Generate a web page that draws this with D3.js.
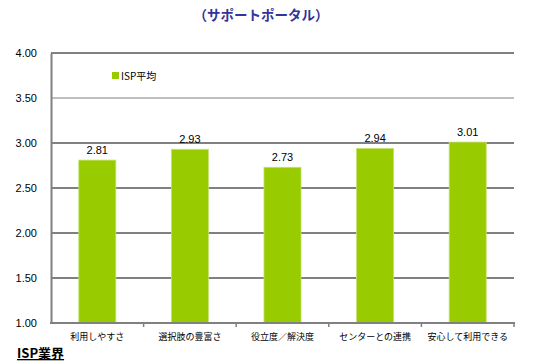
<!DOCTYPE html>
<html>
<head>
<meta charset="utf-8">
<script src="https://cdn.jsdelivr.net/npm/d3@7"></script>
<style>
  body { margin: 0; background: #fff; }
  svg { display: block; font-family: "Liberation Sans", "Noto Sans CJK JP", sans-serif; }
</style>
</head>
<body>
<svg id="chart"></svg>
<script>
const categories = ["利用しやすさ", "選択肢の豊富さ", "役立度／解決度", "センターとの連携", "安心して利用できる"];
const ispAverage = [2.81, 2.93, 2.73, 2.94, 3.01];
const yTicks = [1.00, 1.50, 2.00, 2.50, 3.00, 3.50, 4.00];
const seriesName = "ISP平均";

const width = 544, height = 364;
const margin = {top: 53, right: 30, bottom: 41, left: 51};

const svg = d3.select("#chart")
    .attr("width", width)
    .attr("height", height);

const x = d3.scaleBand()
    .domain(categories)
    .range([margin.left, width - margin.right])
    .paddingInner(0.6)
    .paddingOuter(0.3);

const y = d3.scaleLinear()
    .domain([1, 4])
    .range([height - margin.bottom, margin.top]);

// title
svg.append("text")
    .attr("x", 261)
    .attr("y", 20)
    .attr("text-anchor", "middle")
    .attr("font-size", 13.5)
    .attr("font-weight", "bold")
    .attr("fill", "#333399")
    .attr("font-family", "Noto Sans CJK JP")
    .text("（サポートポータル）");

// gridlines
svg.append("g")
    .selectAll("line")
    .data(yTicks.filter(d => d > 1))
    .join("line")
    .attr("x1", margin.left)
    .attr("x2", width - margin.right)
    .attr("y1", d => y(d))
    .attr("y2", d => y(d))
    .attr("stroke", "#808080")
    .attr("stroke-width", d => d === 3.5 ? 1 : 2);

// y axis
const yAxis = svg.append("g")
    .attr("transform", `translate(${margin.left},0)`)
    .call(d3.axisLeft(y).tickValues(yTicks).tickFormat(d3.format(".2f")).tickSize(0).tickPadding(14));
yAxis.select(".domain").attr("stroke", "#808080").attr("stroke-width", 2);
yAxis.selectAll("text").attr("font-size", 11).attr("fill", "#000").attr("font-family", "Liberation Sans");

// bars
svg.append("g")
    .selectAll("rect")
    .data(ispAverage)
    .join("rect")
    .attr("x", (d, i) => x(categories[i]))
    .attr("y", d => y(d))
    .attr("width", x.bandwidth())
    .attr("height", d => y(1) - y(d))
    .attr("fill", "#99cc00")
    .attr("stroke", "#c4e070")
    .attr("stroke-width", 0.8);

// value labels
svg.append("g")
    .selectAll("text")
    .data(ispAverage)
    .join("text")
    .attr("x", (d, i) => x(categories[i]) + x.bandwidth() / 2)
    .attr("y", d => y(d) - 6)
    .attr("text-anchor", "middle")
    .attr("font-size", 11)
    .attr("font-family", "Liberation Sans")
    .text(d => d.toFixed(2));

// x axis
const boundaries = d3.range(1, categories.length + 1).map(i => margin.left + (width - margin.right - margin.left) * i / categories.length);
svg.append("line")
    .attr("x1", margin.left - 1)
    .attr("x2", width - margin.right + 1)
    .attr("y1", y(1))
    .attr("y2", y(1))
    .attr("stroke", "#808080")
    .attr("stroke-width", 2);
svg.append("g")
    .selectAll("line")
    .data(boundaries)
    .join("line")
    .attr("x1", d => d)
    .attr("x2", d => d)
    .attr("y1", y(1))
    .attr("y2", y(1) + 4)
    .attr("stroke", "#808080")
    .attr("stroke-width", 1.5);

svg.append("g")
    .selectAll("text")
    .data(categories)
    .join("text")
    .attr("x", d => x(d) + x.bandwidth() / 2)
    .attr("y", y(1) + 17)
    .attr("text-anchor", "middle")
    .attr("font-size", 9)
    .attr("font-family", "Noto Sans CJK JP")
    .text(d => d);

// legend
svg.append("rect")
    .attr("x", 112)
    .attr("y", 72)
    .attr("width", 7)
    .attr("height", 7)
    .attr("fill", "#99cc00");
svg.append("text")
    .attr("x", 121)
    .attr("y", 80)
    .attr("font-size", 10)
    .attr("font-family", "Noto Sans CJK JP")
    .text(seriesName);

// footer heading
svg.append("text")
    .attr("x", 17)
    .attr("y", 358)
    .attr("font-size", 13)
    .attr("font-weight", "bold")
    .attr("text-decoration", "underline")
    .attr("font-family", "Noto Sans CJK JP")
    .text("ISP業界");
</script>
</body>
</html>
